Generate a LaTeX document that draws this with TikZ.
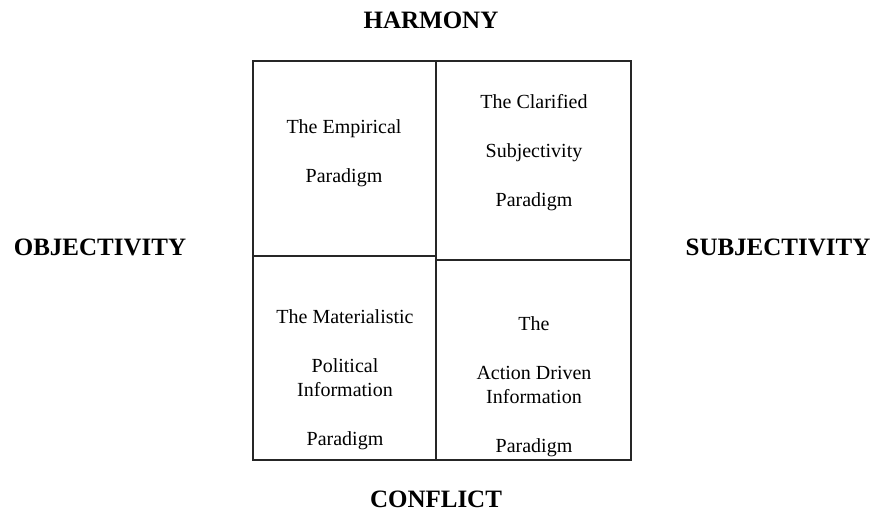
\documentclass[tikz,border=0pt]{standalone}
\usepackage{fontspec}
\setmainfont{Liberation Serif}
\usepackage{tikz}

\begin{document}
\begin{tikzpicture}[x=0.5pt,y=-0.5pt,
	cell/.style={font=\fontsize{10}{12}\selectfont, align=center, anchor=north, inner sep=0pt},
	axislabel/.style={font=\fontsize{12.5}{15}\selectfont\bfseries, anchor=base}]
		\useasboundingbox (0,0) rectangle (874,511);

		% Draw the four quadrants
		\draw[line width=0.7pt, black!85] (253,61) rectangle (436,256);
		\draw[line width=0.7pt, black!85] (436,61) rectangle (631,260);
		\draw[line width=0.7pt, black!85] (253,256) rectangle (436,460);
		\draw[line width=0.7pt, black!85] (436,260) rectangle (631,460);

		% Axis labels
		\node[axislabel] (harmony) at (431,28) {HARMONY};
		\node[axislabel] (conflict) at (436,507) {CONFLICT};
		\node[axislabel] (objectivity) at (100,255) {OBJECTIVITY};
		\node[axislabel] (subjectivity) at (778,255) {SUBJECTIVITY};

		% Paradigms
		\node[cell] (empirical) at (344,119.3) {The Empirical\\[12.5pt] Paradigm};
		\node[cell] (clarified) at (534,94.3) {The Clarified\\[12.5pt] Subjectivity\\[12.5pt] Paradigm};
		\node[cell] (materialistic) at (345,309.3) {The Materialistic\\[12.5pt] Political\\ Information\\[12.5pt] Paradigm};
		\node[cell] (action) at (534,316.3) {The\\[12.5pt] Action Driven\\ Information\\[12.5pt] Paradigm};
	\end{tikzpicture}
\end{document}
